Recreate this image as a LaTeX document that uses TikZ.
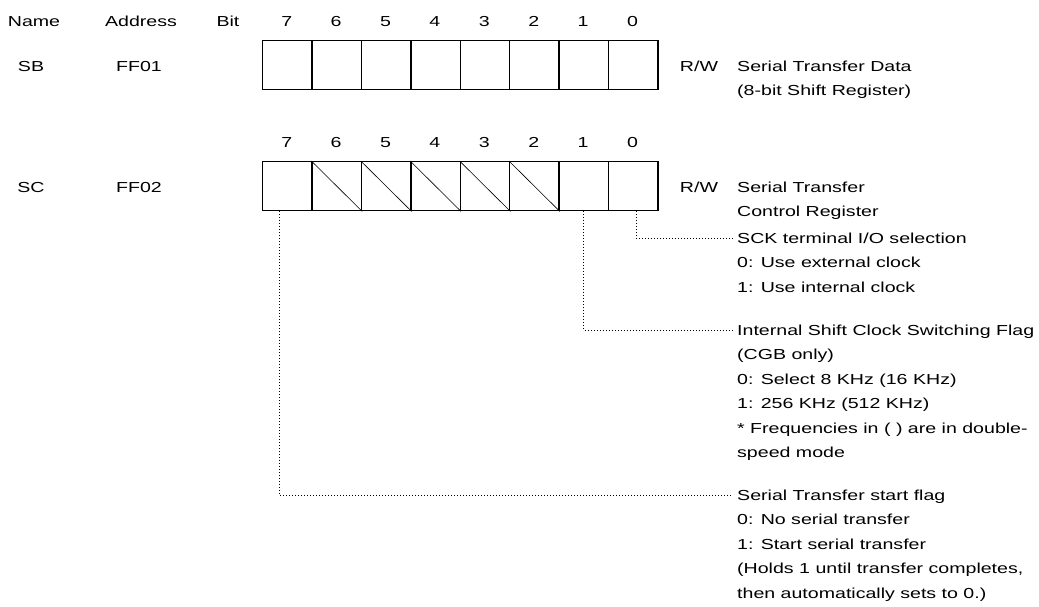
\documentclass[tikz,border=0pt]{standalone}
\usepackage{fontspec}
\setmainfont{Liberation Sans}[FakeStretch=1.35]
\usetikzlibrary{positioning}

\newcommand\desclines[1]{\begin{tabular}[t]{@{}l@{}}#1\end{tabular}}

\tikzset{
  cell/.style={draw, line width=1.4pt, minimum width=49.4pt, minimum height=49pt, inner sep=0pt, anchor=north west},
  hatch/.style={line width=0.6pt},
  lbl/.style={inner sep=0pt, anchor=base},
  desc/.style={inner xsep=4pt, inner ysep=0pt, anchor=base west},
  dotline/.style={line width=1pt, dash pattern=on 1pt off 2pt},
}

\begin{document}
\begin{tikzpicture}[x=1pt, y=-1pt, font=\fontsize{14.5}{24.5}\selectfont]
  \useasboundingbox (0,0) rectangle (1039,606);

  % header
  \node[lbl] (hname) at (34,26) {Name};
  \node[lbl] (haddr) at (141,26) {Address};
  \node[lbl] (hbit) at (228,26) {Bit};

  % SB register
  \foreach \b [count=\i from 0] in {7,6,...,0} {
    \node[lbl] (sbnum\b) at ({262+49.4*(\i+0.5)},26) {\b};
    \node[cell] (sb\b) at ({262+49.4*\i},40) {};
  }
  \node[lbl] (sbname) at (31,71) {SB};
  \node[lbl] (sbaddr) at (139,71) {FF01};
  \node[lbl] (sbrw) at (699,71) {R/W};
  \node[desc] (sbdesc) at (733,71) {\desclines{Serial Transfer Data\\(8-bit Shift Register)}};

  % SC register
  \foreach \b [count=\i from 0] in {7,6,...,0} {
    \node[lbl] (scnum\b) at ({262+49.4*(\i+0.5)},147) {\b};
    \node[cell] (sc\b) at ({262+49.4*\i},161) {};
  }
  \foreach \b in {6,5,...,2}
    \draw[hatch] (sc\b.north west) -- (sc\b.south east);
  \node[lbl] (scname) at (31,192) {SC};
  \node[lbl] (scaddr) at (139,192) {FF02};
  \node[lbl] (scrw) at (699,192) {R/W};
  \node[desc] (scdesc) at (733,192) {\desclines{Serial Transfer\\Control Register}};

  % bit descriptions
  \node[desc] (sck) at (733,243) {\desclines{SCK terminal I/O selection\\0: Use external clock\\1: Use internal clock}};
  \node[desc] (clksel) at (733,335) {\desclines{Internal Shift Clock Switching Flag\\(CGB only)\\0: Select 8 KHz (16 KHz)\\1: 256 KHz (512 KHz)\\{*} Frequencies in ( ) are in double-\\speed mode}};
  \node[desc] (start) at (733,500) {\desclines{Serial Transfer start flag\\0: No serial transfer\\1: Start serial transfer\\(Holds 1 until transfer completes,\\then automatically sets to 0.)}};

  \draw[dotline] ([xshift=3pt]sc0.south) |- ([yshift=4.5pt]sck.base west);
  \draw[dotline] (sc1.south) |- ([yshift=4.5pt]clksel.base west);
  \draw[dotline] ([xshift=-8pt]sc7.south) |- ([yshift=4.5pt]start.base west);
\end{tikzpicture}
\end{document}
